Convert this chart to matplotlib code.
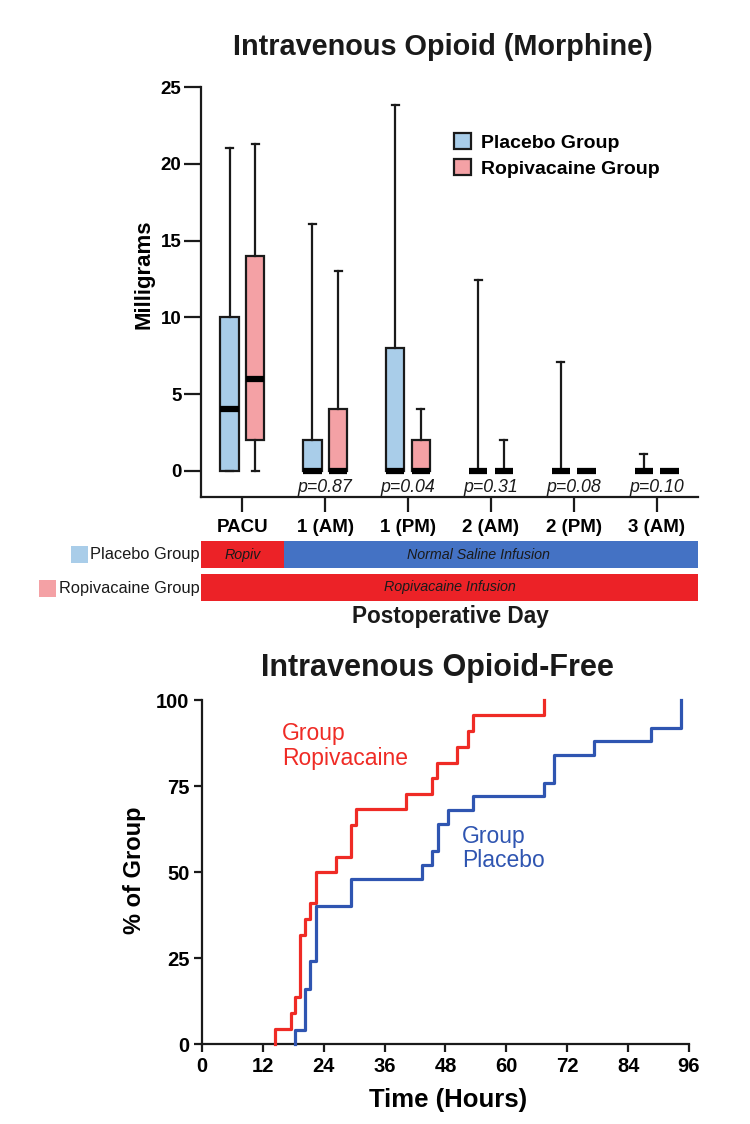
import matplotlib
matplotlib.use('Agg')
import matplotlib.pyplot as plt
from matplotlib.patches import Patch, Rectangle

plt.rcParams['font.family'] = ['Liberation Sans', 'DejaVu Sans']

# ---------------- data ----------------
timepoints = ["PACU", "1 (AM)", "1 (PM)", "2 (AM)", "2 (PM)", "3 (AM)"]
p_values = ["", "p=0.87", "p=0.04", "p=0.31", "p=0.08", "p=0.10"]

placebo_min = [0, 0, 0, 0, 0, 0]
placebo_q1 = [0, 0, 0, 0, 0, 0]
placebo_med = [4, 0, 0, 0, 0, 0]
placebo_q3 = [10, 2, 8, 0, 0, 0]
placebo_max = [21, 16.1, 23.8, 12.4, 7.1, 1.1]

ropi_min = [0, 0, 0, 0, 0, 0]
ropi_q1 = [2, 0, 0, 0, 0, 0]
ropi_med = [6, 0, 0, 0, 0, 0]
ropi_q3 = [14, 4, 2, 0, 0, 0]
ropi_max = [21.3, 13, 4, 2, 0, 0]

infusion_groups = ["Placebo Group", "Ropivacaine Group"]
placebo_seg_labels = ["Ropiv", "Normal Saline Infusion"]
placebo_seg_start = [-0.5, 0.5]
placebo_seg_end = [0.5, 5.5]
ropi_seg_labels = ["Ropivacaine Infusion"]
ropi_seg_start = [-0.5]
ropi_seg_end = [5.5]

ropi_hours = [14.3, 17.5, 18.4, 19.4, 20.4, 21.3, 22.5, 26.4, 29.4, 30.3,
              40.3, 45.4, 46.4, 50.2, 52.4, 53.5, 67.5]
ropi_pct = [4.5, 9.1, 13.6, 31.8, 36.4, 40.9, 50.0, 54.5, 63.6, 68.2,
            72.7, 77.3, 81.8, 86.4, 90.9, 95.5, 100]
placebo_hours = [18.4, 20.4, 21.3, 22.5, 29.4, 43.4, 45.3, 46.5, 48.4, 53.5,
                 67.5, 69.4, 77.3, 88.5, 94.5]
placebo_pct = [4, 16, 24, 40, 48, 52, 56, 64, 68, 72, 76, 84, 88, 92, 100]

# ---------------- style ----------------
LIGHT_BLUE = '#a9cde9'
PINK = '#f4a1a5'
BAR_RED = '#ec2227'
BAR_BLUE = '#4472c4'
CURVE_RED = '#ef2b25'
CURVE_BLUE = '#2f55b1'
INK = '#1a1a1a'

W, H = 750, 1124
fig = plt.figure(figsize=(W / 100, H / 100), dpi=100)


def fx(px):
    return px / W


def fy(py):
    return 1 - py / H


# ---------------- top box plot ----------------
ax = fig.add_axes([fx(201), fy(497), fx(698) - fx(201), fy(87) - fy(497)])
n = len(timepoints)
pos = list(range(n))


def make_stats(lo, q1, med, q3, hi):
    return [dict(whislo=a, q1=b, med=c, q3=d, whishi=e, fliers=[])
            for a, b, c, d, e in zip(lo, q1, med, q3, hi)]


common = dict(widths=0.22, patch_artist=True, showfliers=False,
              medianprops=dict(color='black', linewidth=4.5, solid_capstyle='butt'),
              whiskerprops=dict(color=INK, linewidth=1.6),
              capprops=dict(color=INK, linewidth=1.6),
              capwidths=0.085, manage_ticks=False)
ax.bxp(make_stats(placebo_min, placebo_q1, placebo_med, placebo_q3, placebo_max),
       positions=[p - 0.155 for p in pos],
       boxprops=dict(facecolor=LIGHT_BLUE, edgecolor=INK, linewidth=1.6), **common)
ax.bxp(make_stats(ropi_min, ropi_q1, ropi_med, ropi_q3, ropi_max),
       positions=[p + 0.155 for p in pos],
       boxprops=dict(facecolor=PINK, edgecolor=INK, linewidth=1.6), **common)

for p, txt in zip(pos, p_values):
    if txt:
        ax.text(p, -1.05, txt, ha='center', va='center', fontsize=12.8,
                style='italic', color=INK)

ax.set_xlim(-0.5, 5.5)
ax.set_ylim(-1.7, 25)
ax.set_yticks([0, 5, 10, 15, 20, 25])
ax.set_xticks(pos)
ax.set_xticklabels(timepoints, fontsize=13.5, fontweight='bold')
ax.tick_params(axis='y', labelsize=13.5, length=12, width=1.6, pad=2, color=INK)
ax.tick_params(axis='x', length=11, width=1.6, pad=5, color=INK)
for lab in ax.get_yticklabels():
    lab.set_fontweight('bold')
for s in ['top', 'right']:
    ax.spines[s].set_visible(False)
for s in ['left', 'bottom']:
    ax.spines[s].set_linewidth(1.6)
    ax.spines[s].set_color(INK)
ax.set_ylabel('Milligrams', fontsize=16, fontweight='bold')
ax.yaxis.set_label_coords((154 - 201) / 497, (497 - 274) / 410)

handles = [Patch(facecolor=LIGHT_BLUE, edgecolor=INK, linewidth=1.6),
           Patch(facecolor=PINK, edgecolor=INK, linewidth=1.6)]
leg = ax.legend(handles, ['Placebo Group', 'Ropivacaine Group'], loc='upper left',
                bbox_to_anchor=(0.509, 0.888), frameon=False, borderpad=0,
                borderaxespad=0, handlelength=0.9, handleheight=0.9,
                handletextpad=0.5, labelspacing=0.38,
                prop=dict(size=14, weight='bold'))

fig.text(fx(443), fy(47), 'Intravenous Opioid (Morphine)', ha='center', va='center',
         fontsize=20.8, fontweight='bold', color=INK)

# ---------------- infusion bars ----------------
axb = fig.add_axes([fx(201), fy(604), fx(698) - fx(201), fy(538) - fy(604)])
axb.set_xlim(-0.5, 5.5)
axb.set_ylim(1.5, -0.5)
axb.axis('off')
seg_colors_p = [BAR_RED, BAR_BLUE]
for lab, s, e, c in zip(placebo_seg_labels, placebo_seg_start, placebo_seg_end, seg_colors_p):
    axb.barh(0, e - s, left=s, height=0.83, color=c, edgecolor='none')
for lab, s, e in zip(ropi_seg_labels, ropi_seg_start, ropi_seg_end):
    axb.barh(1, e - s, left=s, height=0.83, color=BAR_RED, edgecolor='none')
axb.text(0.0, 0, placebo_seg_labels[0], ha='center', va='center', fontsize=10.3,
         style='italic', color=INK)
axb.text(2.85, 0, placebo_seg_labels[1], ha='center', va='center', fontsize=10.3,
         style='italic', color=INK)
axb.text(2.5, 1, ropi_seg_labels[0], ha='center', va='center', fontsize=10.3,
         style='italic', color=INK)

fig.text(fx(200), fy(554), infusion_groups[0], ha='right', va='center', fontsize=11.8,
         color=INK)
fig.text(fx(200), fy(588), infusion_groups[1], ha='right', va='center', fontsize=11.8,
         color=INK)
fig.patches.append(Rectangle((fx(71), fy(563)), fx(17), fy(546) - fy(563),
                             transform=fig.transFigure, facecolor=LIGHT_BLUE,
                             edgecolor='none'))
fig.patches.append(Rectangle((fx(39), fy(597)), fx(17), fy(580) - fy(597),
                             transform=fig.transFigure, facecolor=PINK,
                             edgecolor='none'))
fig.text(fx(450), fy(617), 'Postoperative Day', ha='center', va='center',
         fontsize=16.3, fontweight='bold', color=INK)

# ---------------- bottom step chart ----------------
ax2 = fig.add_axes([fx(202), fy(1044), fx(689) - fx(202), fy(700) - fy(1044)])
rx = [ropi_hours[0]] + ropi_hours
ry = [0] + ropi_pct
px_ = [placebo_hours[0]] + placebo_hours
py_ = [0] + placebo_pct
ax2.step(rx, ry, where='post', color=CURVE_RED, linewidth=2.3, clip_on=False, zorder=3)
ax2.step(px_, py_, where='post', color=CURVE_BLUE, linewidth=2.3, clip_on=False, zorder=3)
ax2.set_xlim(0, 96)
ax2.set_ylim(0, 100)
ax2.set_xticks(range(0, 97, 12))
ax2.set_yticks([0, 25, 50, 75, 100])
ax2.tick_params(axis='both', labelsize=14.5, length=6, width=1.6, color=INK, pad=3)
for lab in ax2.get_xticklabels() + ax2.get_yticklabels():
    lab.set_fontweight('bold')
for s in ['top', 'right']:
    ax2.spines[s].set_visible(False)
for s in ['left', 'bottom']:
    ax2.spines[s].set_linewidth(1.6)
    ax2.spines[s].set_color(INK)
ax2.set_xlabel('Time (Hours)', fontsize=18.5, fontweight='bold')
ax2.xaxis.set_label_coords((448 - 202) / 487, -(1088 - 1044) / 344)
ax2.set_ylabel('% of Group', fontsize=17, fontweight='bold')
ax2.yaxis.set_label_coords((146 - 202) / 487, (1044 - 870) / 344)

ax2.text(15.8, 93.5, 'Group\nRopivacaine', color=CURVE_RED, fontsize=16.5,
         ha='left', va='top', linespacing=1.1)
ax2.text(51.2, 63.8, 'Group\nPlacebo', color=CURVE_BLUE, fontsize=16.5,
         ha='left', va='top', linespacing=1.1)

fig.text(fx(437), fy(668), 'Intravenous Opioid-Free', ha='center', va='center',
         fontsize=22, fontweight='bold', color=INK)

fig.savefig('out.png', dpi=100)
